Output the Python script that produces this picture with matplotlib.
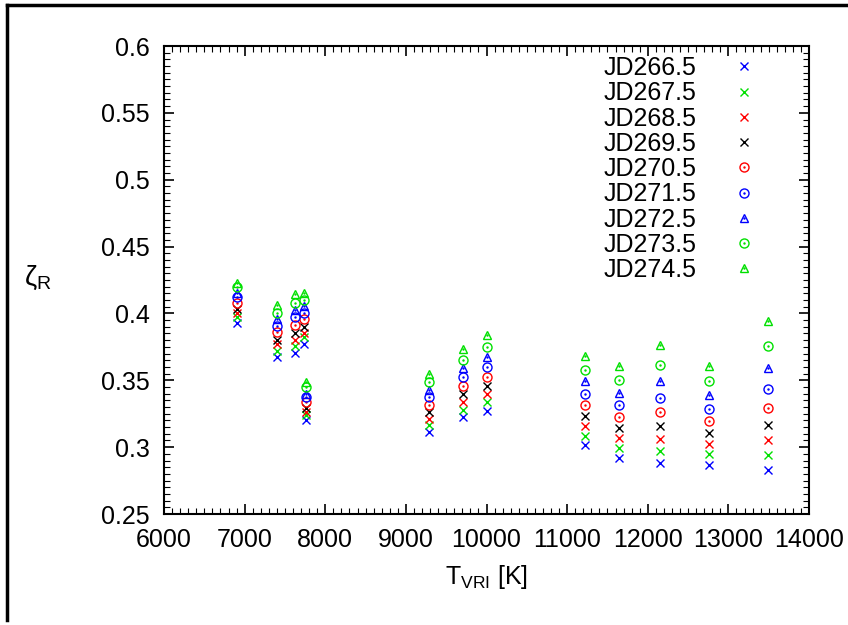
import numpy as np
import matplotlib
matplotlib.use('Agg')
import matplotlib.pyplot as plt
from matplotlib.ticker import MultipleLocator
from matplotlib.legend_handler import HandlerTuple
from matplotlib.lines import Line2D

plt.rcParams['font.family'] = ['Liberation Sans', 'DejaVu Sans']

# effective temperatures of the sampled points
T_vri = [6900, 7400, 7630, 7740, 7760, 9290, 9710, 10000,
         11220, 11640, 12150, 12760, 13490]

# zeta_R for each night
jd266 = [0.393, 0.3675, 0.3705, 0.3775, 0.320, 0.3116, 0.3222, 0.3273, 0.3018, 0.292, 0.288, 0.287, 0.283]
jd267 = [0.397, 0.372, 0.3755, 0.382, 0.324, 0.3165, 0.328, 0.3335, 0.3086, 0.2995, 0.2968, 0.2945, 0.2938]
jd268 = [0.400, 0.377, 0.380, 0.3855, 0.326, 0.321, 0.3335, 0.3397, 0.316, 0.3068, 0.306, 0.3025, 0.305]
jd269 = [0.403, 0.3805, 0.385, 0.390, 0.3295, 0.326, 0.3397, 0.3454, 0.3235, 0.3145, 0.3155, 0.3108, 0.3163]
jd270 = [0.4075, 0.386, 0.391, 0.3955, 0.334, 0.3315, 0.3454, 0.3527, 0.3315, 0.3225, 0.3263, 0.3195, 0.3295]
jd271 = [0.4125, 0.3905, 0.397, 0.400, 0.3375, 0.3372, 0.3522, 0.3597, 0.3397, 0.3313, 0.337, 0.3288, 0.3438]
jd272 = [0.4155, 0.3955, 0.4025, 0.4055, 0.340, 0.3427, 0.3589, 0.3677, 0.3497, 0.3408, 0.3495, 0.3393, 0.3595]
jd273 = [0.4195, 0.4005, 0.408, 0.410, 0.345, 0.3484, 0.3654, 0.3751, 0.3579, 0.350, 0.3618, 0.3493, 0.3755]
jd274 = [0.423, 0.406, 0.4145, 0.4155, 0.349, 0.3547, 0.3734, 0.3839, 0.3684, 0.3605, 0.3763, 0.3608, 0.3945]

labels = ['JD266.5', 'JD267.5', 'JD268.5', 'JD269.5', 'JD270.5',
          'JD271.5', 'JD272.5', 'JD273.5', 'JD274.5']
series = [jd266, jd267, jd268, jd269, jd270, jd271, jd272, jd273, jd274]

blue = '#0000ff'
green = '#00e000'
red = '#ff0000'
black = '#000000'
colors = [blue, green, red, black, red, blue, blue, green, green]
markers = ['x', 'x', 'x', 'x', 'o', 'o', '^', 'o', '^']

fig = plt.figure(figsize=(8.48, 6.25), dpi=100)
ax = fig.add_axes([164/848, 1-514/625, (809-164)/848, (514-46)/625])

handles = []
for y, lab, c, m in zip(series, labels, colors, markers):
    if m == 'x':
        h, = ax.plot(T_vri, y, linestyle='none', marker='x', color=c,
                     markersize=6, markeredgewidth=1.0)
        handles.append(h)
    else:
        h, = ax.plot(T_vri, y, linestyle='none', marker=m, markerfacecolor='none',
                     markeredgecolor=c, markersize=6.5 if m == 'o' else 6,
                     markeredgewidth=1.0)
        d, = ax.plot(T_vri, y, linestyle='none', marker='.', color=c,
                     markersize=1.5)
        handles.append((h, d))

ax.set_xlim(6000, 14000)
ax.set_ylim(0.25, 0.6)
ax.xaxis.set_major_locator(MultipleLocator(1000))
ax.xaxis.set_minor_locator(MultipleLocator(100))
ax.yaxis.set_major_locator(MultipleLocator(0.05))
ax.yaxis.set_minor_locator(MultipleLocator(0.005))
ax.set_yticks(np.arange(0.25, 0.6001, 0.05))
ax.set_yticklabels(['0.25', '0.3', '0.35', '0.4', '0.45', '0.5', '0.55', '0.6'])
ax.tick_params(which='both', direction='in', top=True, right=True, labelsize=18)
ax.tick_params(which='major', length=7, width=1.2, pad=10)
ax.tick_params(which='minor', length=4, width=0.8)
for s in ax.spines.values():
    s.set_linewidth(1.5)

ax.set_xlabel(r'T$_{\mathregular{VRI}}$ [K]', fontsize=18, labelpad=8)
ax.text(-0.195, 0.505, r'ζ$_{\mathregular{R}}$', transform=ax.transAxes,
        fontsize=20, ha='center', va='center')

leg = ax.legend(handles, labels, loc='upper right', bbox_to_anchor=(0.95, 1.016),
                frameon=False, markerfirst=False, fontsize=18, labelspacing=0.05,
                handlelength=1.2, handletextpad=1.3, borderpad=0.2,
                handler_map={tuple: HandlerTuple(ndivide=1, pad=0)})
for t in leg.get_texts():
    t.set_ha('right')

# outer frame lines
fig.add_artist(Line2D([7/848, 1], [1-5/625, 1-5/625], color='black', linewidth=2.5))
fig.add_artist(Line2D([7/848, 7/848], [1-5/625, 1-620/625], color='black', linewidth=2.5))

plt.savefig('out.png', dpi=100)
